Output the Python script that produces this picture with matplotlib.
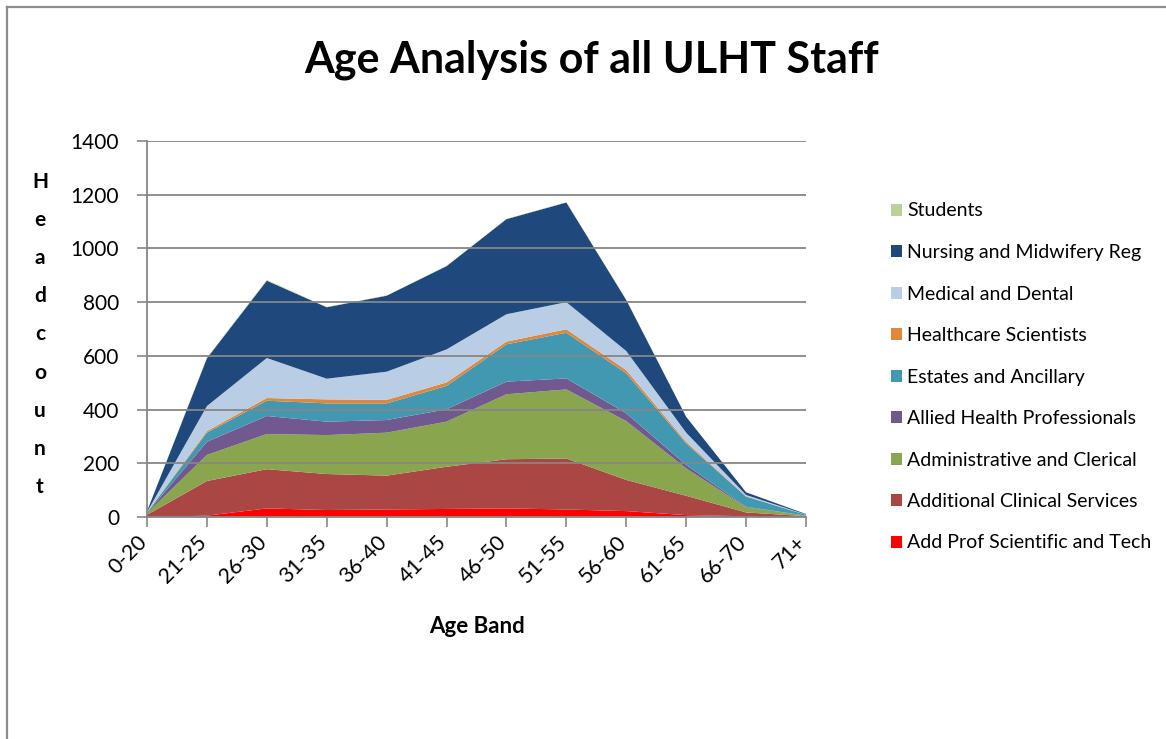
import matplotlib.pyplot as plt
from matplotlib.lines import Line2D
from matplotlib.patches import Patch
from matplotlib.transforms import ScaledTranslation

plt.rcParams['font.family'] = ['Lato', 'DejaVu Sans']

age_bands = ["0-20", "21-25", "26-30", "31-35", "36-40", "41-45",
             "46-50", "51-55", "56-60", "61-65", "66-70", "71+"]

# staff groups, bottom of the stack first
add_prof = [0, 5, 32, 26, 28, 30, 32, 28, 22, 7, 3, 1]
additional_clinical = [8, 129, 146, 134, 126, 157, 183, 190, 116, 72, 14, 2]
admin_clerical = [6, 97, 131, 145, 160, 168, 242, 257, 219, 102, 19, 2]
allied_health = [1, 49, 67, 50, 47, 46, 47, 41, 29, 13, 2, 0]
estates_ancillary = [2, 34, 57, 68, 62, 87, 139, 170, 149, 80, 38, 3]
healthcare_sci = [0, 6, 10, 15, 13, 13, 10, 13, 12, 6, 1, 0]
medical_dental = [1, 93, 149, 77, 105, 123, 102, 101, 71, 34, 5, 1]
nursing_midwifery = [3, 178, 288, 266, 283, 310, 354, 371, 190, 59, 10, 2]
students = [0, 2, 3, 1, 1, 1, 1, 1, 1, 0, 0, 0]

series_names = ["Add Prof Scientific and Tech", "Additional Clinical Services",
                "Administrative and Clerical", "Allied Health Professionals",
                "Estates and Ancillary", "Healthcare Scientists",
                "Medical and Dental", "Nursing and Midwifery Reg", "Students"]
series = [add_prof, additional_clinical, admin_clerical, allied_health,
          estates_ancillary, healthcare_sci, medical_dental,
          nursing_midwifery, students]
colors = ["#FF0000", "#AA4643", "#89A54E", "#71588F", "#4298B0",
          "#E0873E", "#B9CDE5", "#1F497D", "#BBD197"]

fig = plt.figure(figsize=(11.66, 7.39), dpi=100)
ax = fig.add_axes([147 / 1166, 1 - 517 / 739, 659 / 1166, 376 / 739])

x = list(range(len(age_bands)))
ax.stackplot(x, *series, colors=colors, labels=series_names, lw=0)

ax.set_xlim(0, len(age_bands) - 1)
ax.set_ylim(0, 1400)
ax.set_yticks(range(0, 1401, 200))
ax.set_xticks(x)
ax.set_xticklabels(age_bands, rotation=45, ha="right", va="center",
                   rotation_mode="anchor", fontsize=15.5)
ax.tick_params(axis="x", length=7, width=1.2, color="#868686", pad=9)
ax.tick_params(axis="y", length=7, width=1.2, color="#868686", pad=13, labelsize=15)
shift = ScaledTranslation(-3 / 100, 0, fig.dpi_scale_trans)
for lab in ax.get_xticklabels():
    lab.set_transform(lab.get_transform() + shift)

ax.grid(axis="y", color="#868686", lw=1.3)
ax.set_axisbelow(False)
for gl in ax.get_ygridlines():
    gl.set_zorder(0.5)
for name in ["top", "right"]:
    ax.spines[name].set_visible(False)
for name in ["left", "bottom"]:
    ax.spines[name].set_color("#868686")
    ax.spines[name].set_linewidth(1.3)

ax.set_xlabel("Age Band", fontsize=16, fontweight="bold", labelpad=21)

# vertical stacked y label
for i, ch in enumerate("Headcount"):
    fig.text(40 / 1166, 1 - (182 + i * 38.1) / 739, ch, fontsize=15,
             fontweight="bold", ha="center", va="center")

fig.text(592 / 1166, 1 - 60 / 739, "Age Analysis of all ULHT Staff",
         fontsize=31, fontweight="bold", ha="center", va="center")

handles = [Patch(facecolor=c, edgecolor="none") for c in colors]
leg = fig.legend(handles[::-1], series_names[::-1], loc="upper left",
                 bbox_to_anchor=(873 / 1166, 1 - 185 / 739), frameon=False,
                 fontsize=14, handlelength=0.57, handleheight=0.57,
                 handletextpad=0.3, labelspacing=1.26)

# outer chart frame (only top and left edges show in the crop)
fig.add_artist(Line2D([7 / 1166, 7 / 1166], [0, 1 - 7 / 739], color="#8C8C8C", lw=1.6))
fig.add_artist(Line2D([7 / 1166, 1], [1 - 7 / 739, 1 - 7 / 739], color="#8C8C8C", lw=1.6))

fig.savefig("out.png", dpi=100)
